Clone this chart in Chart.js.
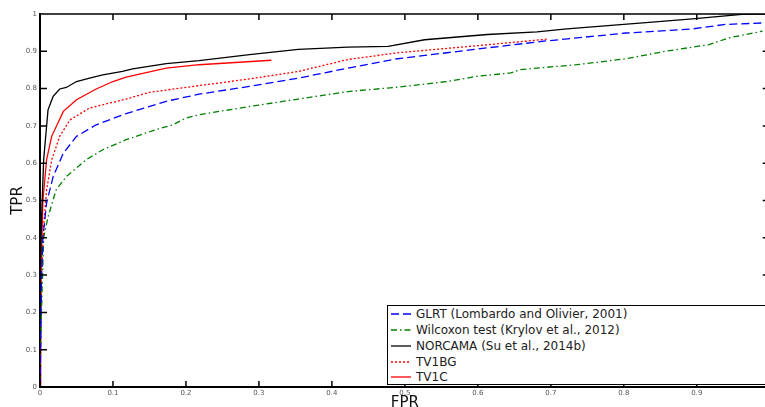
<!DOCTYPE html>
<html>
<head>
<meta charset="utf-8">
<script src="https://cdn.jsdelivr.net/npm/chart.js@4/dist/chart.umd.min.js"></script>
<style>
  html, body { margin: 0; padding: 0; background: #fff; overflow: hidden; width: 765px; height: 407px; }
  #wrap { position: absolute; left: 0; top: 0; width: 774px; height: 420px; }
  #legend { position: absolute; left: 387px; top: 305px; width: 400px; height: 78px; border: 1.5px solid #000; background: #fff;
            font-family: "DejaVu Sans", sans-serif; font-size: 12px; color: #222; }
  .row { position: absolute; left: 0; height: 16px; line-height: 16px; white-space: nowrap; }
  .row svg { position: absolute; left: 2px; top: 3px; }
  .row span { position: absolute; left: 28px; top: 0; }
</style>
</head>
<body>
<div id="wrap">
  <canvas id="myChart" width="774" height="420"></canvas>
</div>
<div id="legend"></div>
<script>
// ROC points
const fprGlrt = [0, 0.001, 0.002, 0.004, 0.009, 0.018, 0.032, 0.05, 0.077, 0.118, 0.173, 0.218, 0.287, 0.354, 0.422, 0.49, 0.599, 0.69, 0.803, 0.894, 0.939, 0.99];
const tprGlrt = [0, 0.15, 0.28, 0.4, 0.493, 0.564, 0.627, 0.672, 0.703, 0.733, 0.766, 0.785, 0.806, 0.828, 0.855, 0.88, 0.906, 0.927, 0.949, 0.96, 0.972, 0.976];

const fprWilcoxon = [0, 0.001, 0.002, 0.0035, 0.005, 0.011, 0.022, 0.036, 0.063, 0.086, 0.118, 0.159, 0.182, 0.2, 0.218, 0.287, 0.354, 0.422, 0.49, 0.558, 0.599, 0.645, 0.658, 0.735, 0.803, 0.857, 0.917, 0.944, 0.99];
const tprWilcoxon = [0, 0.12, 0.2, 0.3, 0.4, 0.456, 0.528, 0.564, 0.609, 0.636, 0.663, 0.69, 0.703, 0.721, 0.73, 0.752, 0.772, 0.792, 0.804, 0.819, 0.833, 0.842, 0.851, 0.864, 0.88, 0.9, 0.918, 0.936, 0.954];

const fprNorcama = [0, 0.0005, 0.002, 0.005, 0.011, 0.018, 0.027, 0.036, 0.05, 0.068, 0.086, 0.113, 0.127, 0.173, 0.218, 0.287, 0.354, 0.422, 0.477, 0.527, 0.613, 0.681, 0.722, 0.826, 0.894, 0.962, 1];
const tprNorcama = [0, 0.3, 0.447, 0.609, 0.743, 0.779, 0.799, 0.803, 0.819, 0.828, 0.837, 0.846, 0.853, 0.867, 0.875, 0.891, 0.905, 0.911, 0.913, 0.931, 0.945, 0.952, 0.96, 0.976, 0.987, 0.999, 1];

const fprTv1bg = [0, 0.001, 0.002, 0.005, 0.009, 0.016, 0.027, 0.041, 0.068, 0.095, 0.118, 0.15, 0.218, 0.287, 0.354, 0.422, 0.49, 0.599, 0.697];
const tprTv1bg = [0, 0.15, 0.3, 0.43, 0.527, 0.609, 0.672, 0.716, 0.748, 0.761, 0.772, 0.79, 0.808, 0.826, 0.846, 0.878, 0.896, 0.915, 0.933];

const fprTv1c = [0, 0.001, 0.002, 0.004, 0.009, 0.016, 0.032, 0.05, 0.077, 0.1, 0.118, 0.173, 0.218, 0.317];
const tprTv1c = [0, 0.2, 0.35, 0.5, 0.609, 0.672, 0.739, 0.77, 0.799, 0.819, 0.831, 0.855, 0.864, 0.876];

const seriesNames = ['GLRT (Lombardo and Olivier, 2001)', 'Wilcoxon test (Krylov et al., 2012)', 'NORCAMA (Su et al., 2014b)', 'TV1BG', 'TV1C'];
const tickValues = [0, 0.1, 0.2, 0.3, 0.4, 0.5, 0.6, 0.7, 0.8, 0.9, 1];

const pts = (xs, ys) => xs.map((x, i) => ({ x: x, y: ys[i] }));

const styles = [
  { color: '#0000ff', dash: [8, 4] },
  { color: '#007f00', dash: [6, 3, 1.5, 3] },
  { color: '#000000', dash: [] },
  { color: '#ff0000', dash: [2, 2] },
  { color: '#ff0000', dash: [] },
];
const seriesData = [
  pts(fprGlrt, tprGlrt),
  pts(fprWilcoxon, tprWilcoxon),
  pts(fprNorcama, tprNorcama),
  pts(fprTv1bg, tprTv1bg),
  pts(fprTv1c, tprTv1c),
];

// inward ticks + top frame line
const frame = {
  id: 'frame',
  afterDraw(chart) {
    const { ctx, chartArea: a, scales } = chart;
    ctx.save();
    ctx.strokeStyle = '#000';
    ctx.lineWidth = 1.5;
    ctx.beginPath();
    ctx.moveTo(a.left, a.top);
    ctx.lineTo(a.right, a.top);
    tickValues.forEach(v => {
      const x = scales.x.getPixelForValue(v);
      ctx.moveTo(x, a.bottom);
      ctx.lineTo(x, a.bottom - 6);
      ctx.moveTo(x, a.top);
      ctx.lineTo(x, a.top + 6);
      const y = scales.y.getPixelForValue(v);
      ctx.moveTo(a.left, y);
      ctx.lineTo(a.left + 7, y);
      ctx.moveTo(a.right, y);
      ctx.lineTo(a.right - 7, y);
    });
    ctx.stroke();
    ctx.restore();
  },
};

const tickFont = { family: 'DejaVu Sans', size: 7 };

new Chart(document.getElementById('myChart').getContext('2d'), {
  type: 'scatter',
  data: {
    datasets: seriesData.map((d, i) => ({
      label: seriesNames[i],
      data: d,
      showLine: true,
      fill: false,
      borderColor: styles[i].color,
      backgroundColor: styles[i].color,
      borderDash: styles[i].dash,
      borderWidth: 1.3,
      pointRadius: 0,
      tension: 0,
    })),
  },
  options: {
    responsive: false,
    animation: false,
    layout: { padding: { top: 14, right: 1, left: 0, bottom: 0 } },
    plugins: { legend: { display: false }, tooltip: { enabled: false } },
    scales: {
      x: {
        type: 'linear', min: 0, max: 1,
        afterFit: s => { s.height = 33; },
        grid: { display: false, drawTicks: false },
        border: { display: true, color: '#000', width: 2 },
        ticks: { stepSize: 0.1, color: '#555', font: tickFont, padding: 2, maxRotation: 0,
                 callback: v => String(Math.round(v * 10) / 10) },
        title: { display: true, text: 'FPR', color: '#111', font: { family: 'DejaVu Sans', size: 15 }, padding: { top: 0, bottom: 8 } },
      },
      y: {
        type: 'linear', min: 0, max: 1,
        afterFit: s => { s.width = 40; },
        grid: { display: false, drawTicks: false },
        border: { display: true, color: '#000', width: 2 },
        ticks: { stepSize: 0.1, color: '#555', font: tickFont, padding: 3,
                 callback: v => String(Math.round(v * 10) / 10) },
        title: { display: true, text: 'TPR', color: '#111', font: { family: 'DejaVu Sans', size: 15 }, padding: { top: 9, bottom: 0 } },
      },
    },
  },
  plugins: [frame],
});

// legend box in the lower right
const legend = document.getElementById('legend');
const rowTops = [0, 16, 32, 48, 63];
seriesNames.forEach((name, i) => {
  const row = document.createElement('div');
  row.className = 'row';
  row.style.top = rowTops[i] + 'px';
  row.innerHTML = '<svg width="22" height="10"><line x1="1" y1="5" x2="21" y2="5" stroke="' + styles[i].color +
    '" stroke-width="1.3" stroke-dasharray="' + (styles[i].dash.join(' ') || 'none') + '"/></svg><span>' + name + '</span>';
  legend.appendChild(row);
});
</script>
</body>
</html>
